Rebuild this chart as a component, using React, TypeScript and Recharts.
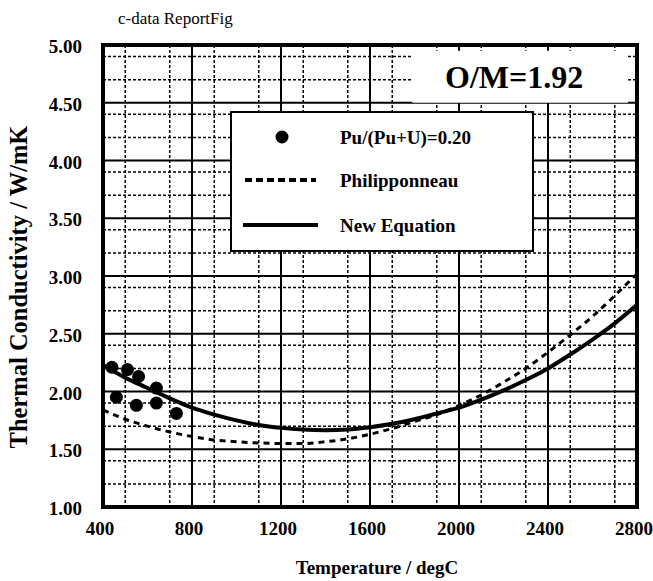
import {
  ComposedChart,
  Line,
  Scatter,
  XAxis,
  YAxis,
  CartesianGrid,
  ReferenceArea,
  Legend,
} from 'recharts'

const SERIF = '"Liberation Serif", "Times New Roman", serif'

// axis ticks
const xTicks = [400, 800, 1200, 1600, 2000, 2400, 2800]
const yTicks = [1, 1.5, 2, 2.5, 3, 3.5, 4, 4.5, 5]
const xMinorTicks = [
  500, 600, 700, 900, 1000, 1100, 1300, 1400, 1500, 1700, 1800, 1900, 2100, 2200,
  2300, 2500, 2600, 2700,
]
const yMinorTicks = [
  1.1, 1.2, 1.3, 1.4, 1.6, 1.7, 1.8, 1.9, 2.1, 2.2, 2.3, 2.4, 2.6, 2.7, 2.8, 2.9, 3.1,
  3.2, 3.3, 3.4, 3.6, 3.7, 3.8, 3.9, 4.1, 4.2, 4.3, 4.4, 4.6, 4.7, 4.8, 4.9,
]

// curves, every 100 degC
const temps = [
  400, 500, 600, 700, 800, 900, 1000, 1100, 1200, 1300, 1400, 1500, 1600, 1700, 1800,
  1900, 2000, 2100, 2200, 2300, 2400, 2500, 2600, 2700, 2800,
]
const newEquationK = [
  2.23, 2.12, 2.03, 1.94, 1.86, 1.8, 1.75, 1.71, 1.685, 1.67, 1.665, 1.67, 1.69, 1.72,
  1.76, 1.81, 1.86, 1.93, 2.01, 2.1, 2.2, 2.32, 2.45, 2.59, 2.75,
]
const philipponneauK = [
  1.84, 1.76, 1.7, 1.65, 1.61, 1.58, 1.565, 1.555, 1.55, 1.55, 1.565, 1.59, 1.63, 1.68,
  1.74, 1.8, 1.88, 1.97, 2.08, 2.2, 2.34, 2.49, 2.65, 2.83, 3.02,
]

// measured points Pu/(Pu+U)=0.20
const measuredT = [440, 510, 560, 640, 460, 550, 640, 730]
const measuredK = [2.21, 2.19, 2.13, 2.03, 1.95, 1.88, 1.9, 1.81]

const newEqData = temps.map((t, i) => ({ t, k: newEquationK[i] }))
const philData = temps.map((t, i) => ({ t, k: philipponneauK[i] }))
const pointData = measuredT.map((t, i) => ({ t, k: measuredK[i] }))

const YTick = ({ x, y, payload }: any) => (
  <text x={x} y={y} dy={8} textAnchor="end" fontFamily={SERIF} fontWeight="bold" fontSize={19} fill="#000">
    {Number(payload.value).toFixed(2)}
  </text>
)

const XTick = ({ x, y, payload }: any) => (
  <text x={x} y={y} dx={-3} dy={28} textAnchor="middle" fontFamily={SERIF} fontWeight="bold" fontSize={19} fill="#000">
    {payload.value}
  </text>
)

const YTitle = ({ viewBox }: any) => {
  const cx = viewBox.x + 18
  const cy = viewBox.y + viewBox.height / 2 + 11
  return (
    <text
      x={cx}
      y={cy}
      transform={`rotate(-90 ${cx} ${cy})`}
      textAnchor="middle"
      dominantBaseline="central"
      fontFamily={SERIF}
      fontWeight="bold"
      fontSize={24.5}
      fill="#000"
    >
      Thermal Conductivity / W/mK
    </text>
  )
}

const XTitle = ({ viewBox }: any) => (
  <text
    x={viewBox.x + viewBox.width / 2 + 7}
    y={viewBox.y + 67}
    textAnchor="middle"
    fontFamily={SERIF}
    fontWeight="bold"
    fontSize={19}
    fill="#000"
  >
    Temperature / degC
  </text>
)

function LegendBox() {
  const txt = { fontFamily: SERIF, fontWeight: 'bold' as const, fontSize: 19, fill: '#000' }
  return (
    <svg width={304} height={141} style={{ display: 'block', background: '#fff' }}>
      <rect x={1} y={1} width={302} height={139} fill="#fff" stroke="#000" strokeWidth={2} />
      <circle cx={52} cy={26} r={6.5} fill="#000" />
      <text x={110} y={33} {...txt}>Pu/(Pu+U)=0.20</text>
      <line x1={15} x2={86} y1={69} y2={69} stroke="#000" strokeWidth={4} strokeDasharray="7 4" />
      <text x={110} y={76} {...txt}>Philipponneau</text>
      <line x1={13} x2={88} y1={114} y2={114} stroke="#000" strokeWidth={4} />
      <text x={110} y={121} {...txt}>New Equation</text>
    </svg>
  )
}

export default function App() {
  return (
    <div style={{ position: 'absolute', left: 0, top: 0, width: 653, height: 581, background: '#fff' }}>
      <div
        style={{
          position: 'absolute',
          left: 118,
          top: 8,
          zIndex: 2,
          fontFamily: SERIF,
          fontSize: 17,
          lineHeight: '22px',
          color: '#000',
        }}
      >
        c-data ReportFig
      </div>
      <ComposedChart width={653} height={581} margin={{ top: 45, right: 16, left: 0, bottom: 0 }}>
        <CartesianGrid
          verticalValues={xMinorTicks}
          horizontalValues={yMinorTicks}
          stroke="#000"
          strokeWidth={1.5}
          strokeDasharray="3 2"
        />
        <CartesianGrid stroke="#000" strokeWidth={2} />
        <XAxis
          type="number"
          dataKey="t"
          domain={[400, 2800]}
          ticks={xTicks}
          allowDataOverflow
          height={74}
          tickLine={false}
          axisLine={false}
          tickSize={0}
          tickMargin={0}
          tick={<XTick />}
          label={<XTitle />}
        />
        <YAxis
          type="number"
          domain={[1, 5]}
          ticks={yTicks}
          allowDataOverflow
          width={103}
          tickLine={false}
          axisLine={false}
          tickSize={0}
          tickMargin={21}
          tick={<YTick />}
          label={<YTitle />}
        />
        <ReferenceArea
          x1={1790}
          x2={2760}
          y1={4.5}
          y2={4.95}
          fill="#fff"
          fillOpacity={1}
          stroke="none"
          label={{
            value: 'O/M=1.92',
            position: 'center',
            dx: -6,
            fontFamily: SERIF,
            fontWeight: 'bold',
            fontSize: 32,
            fill: '#000',
          }}
        />
        <ReferenceArea x1={400} x2={2800} y1={1} y2={5} fill="none" stroke="#000" strokeWidth={4} />
        <Line
          data={philData}
          dataKey="k"
          type="monotone"
          stroke="#000"
          strokeWidth={3}
          strokeDasharray="6 5"
          dot={false}
          isAnimationActive={false}
        />
        <Line
          data={newEqData}
          dataKey="k"
          type="monotone"
          stroke="#000"
          strokeWidth={4}
          dot={false}
          isAnimationActive={false}
        />
        <Scatter
          data={pointData}
          dataKey="k"
          isAnimationActive={false}
          shape={(p: any) => <circle cx={p.cx} cy={p.cy} r={6.5} fill="#000" />}
        />
        <Legend
          layout="horizontal"
          align="center"
          verticalAlign="middle"
          wrapperStyle={{ left: 230, top: 111, width: 304, height: 141 }}
          content={() => <LegendBox />}
        />
      </ComposedChart>
    </div>
  )
}
